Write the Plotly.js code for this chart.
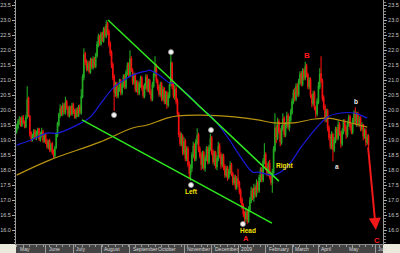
<!DOCTYPE html>
<html><head><meta charset="utf-8">
<script src="https://cdn.plot.ly/plotly-3.0.1.min.js"></script>
<style>html,body{margin:0;padding:0;background:#000}#chart{width:400px;height:253px}</style>
</head><body><div id="chart"></div>
<script>
// ---- Data (trading-day index on x, price on y) ----
const openP = [
19.30,19.42,19.60,19.72,19.50,19.76,19.62,19.45,19.78,20.40,
19.80,19.25,19.02,19.12,19.32,19.08,19.22,19.38,19.02,19.18,
19.28,18.98,19.18,18.98,18.78,18.98,18.68,18.88,18.62,18.48,
18.78,19.18,19.52,19.82,20.08,19.88,20.18,19.92,20.28,20.08,
19.82,20.08,19.88,20.18,19.98,19.78,20.02,19.82,20.12,19.92,
20.45,21.10,21.88,21.62,21.38,21.58,21.28,21.68,21.42,21.72,
21.48,21.82,22.18,22.48,22.22,22.58,22.32,22.72,22.48,22.88,
22.62,22.22,21.92,21.52,21.12,20.58,20.88,20.48,20.72,20.98,
20.58,20.82,21.12,20.78,21.22,21.52,21.18,21.72,21.32,20.92,
21.18,20.68,20.92,20.58,20.82,21.08,20.78,20.48,20.78,21.12,
20.68,20.98,20.62,20.38,20.82,21.18,21.48,20.98,20.78,20.52,
20.88,20.38,20.72,20.28,20.58,20.18,20.48,20.88,21.55,20.82,
20.48,20.72,20.32,19.88,19.22,18.88,19.12,18.58,18.98,18.38,
18.72,18.22,17.88,18.08,18.48,18.82,18.38,18.92,19.18,18.72,
18.52,18.18,18.58,18.08,18.38,18.72,18.28,18.72,19.08,18.62,
18.28,18.58,18.12,18.38,18.82,18.52,18.18,18.48,18.12,17.82,
18.08,17.78,17.92,18.18,17.88,17.58,17.78,17.42,17.72,17.58,
17.32,17.02,16.82,16.58,16.38,16.62,16.32,16.68,16.98,17.32,
17.08,17.42,17.18,17.58,17.32,17.72,18.02,17.68,18.28,18.52,
18.12,17.88,18.22,17.82,17.58,17.92,18.68,19.42,19.08,19.62,
19.32,18.92,19.38,19.72,19.18,19.48,19.82,19.42,19.68,19.92,
20.28,20.62,20.38,20.82,20.52,20.92,21.22,20.88,21.32,21.08,
21.48,21.18,20.78,21.02,20.48,20.22,20.58,20.08,19.88,20.28,
20.78,21.22,20.98,20.42,20.12,19.68,19.98,19.42,19.12,18.78,
19.18,18.68,18.98,19.38,19.08,19.52,19.22,18.88,19.28,19.62,
19.42,19.18,19.52,19.78,19.48,19.28,19.62,19.92,19.58,19.88,
19.52,19.72,19.38,19.52,19.12,19.32,18.92,19.12];
const highP = [
19.55,19.70,19.80,19.78,19.82,19.84,19.66,19.85,20.80,20.45,
19.85,19.30,19.22,19.38,19.36,19.32,19.42,19.42,19.28,19.42,
19.35,19.22,19.25,19.05,19.02,19.05,18.92,18.95,18.70,18.82,
19.28,19.62,19.92,20.20,20.15,20.25,20.25,20.45,20.35,20.15,
20.15,20.15,20.25,20.25,20.05,20.08,20.10,20.18,20.20,20.70,
21.20,22.07,21.95,21.70,21.65,21.65,21.75,21.75,21.80,21.78,
21.92,22.30,22.55,22.52,22.62,22.62,22.78,22.80,23.00,22.95,
22.70,22.30,22.00,21.60,21.20,20.95,20.95,20.85,21.05,21.05,
20.95,21.20,21.20,21.35,21.60,21.60,22.00,21.80,21.40,21.25,
21.25,21.00,21.00,20.95,21.15,21.15,20.85,20.90,21.20,21.20,
21.05,21.05,20.70,20.95,21.30,21.80,21.55,21.05,20.85,20.95,
20.95,20.80,20.78,20.65,20.65,20.60,20.95,21.85,21.62,20.90,
20.85,20.80,20.40,19.95,19.30,19.25,19.20,19.10,19.05,18.80,
18.80,18.30,18.20,18.60,18.95,18.90,19.05,19.40,19.25,18.80,
18.60,18.65,18.65,18.50,18.80,18.80,18.85,19.22,19.15,18.70,
18.65,18.65,18.50,18.95,18.90,18.60,18.55,18.55,18.20,18.15,
18.15,18.05,18.30,18.25,17.95,17.85,17.85,17.80,18.05,17.65,
17.40,17.10,16.90,16.65,16.75,16.70,16.80,17.10,17.45,17.40,
17.55,17.50,17.70,17.65,17.85,18.10,18.10,18.40,18.90,18.60,
18.25,18.30,18.35,17.90,18.05,18.80,19.90,19.50,19.75,19.70,
19.40,19.50,19.90,19.80,19.60,19.95,19.90,19.80,20.05,20.40,
20.70,20.75,20.90,20.90,21.05,21.30,21.30,21.40,21.40,21.62,
21.55,21.25,21.10,21.10,20.55,20.65,20.65,20.15,20.40,20.95,
21.40,21.80,21.05,20.50,20.20,20.05,20.05,19.50,19.20,19.30,
19.25,19.10,19.45,19.45,19.65,19.60,19.30,19.40,19.70,19.70,
19.50,19.65,19.85,19.85,19.55,19.75,20.00,20.10,19.95,19.95,
19.80,19.80,19.60,19.55,19.40,19.40,19.20,19.20];
const lowP = [
19.22,19.36,19.52,19.45,19.44,19.55,19.40,19.40,19.72,19.78,
19.12,18.95,18.96,19.05,19.02,19.00,19.15,18.98,18.95,19.10,
18.92,18.92,18.88,18.72,18.70,18.62,18.60,18.52,18.40,18.42,
18.70,19.10,19.45,19.75,19.82,19.80,19.88,19.85,20.02,19.78,
19.75,19.82,19.82,19.88,19.72,19.72,19.78,19.78,19.88,19.85,
20.40,21.00,21.50,21.30,21.30,21.22,21.22,21.38,21.35,21.42,
21.40,21.75,22.10,22.15,22.15,22.28,22.25,22.42,22.40,22.50,
22.10,21.80,21.40,21.00,19.98,20.45,20.40,20.40,20.62,20.50,
20.50,20.75,20.70,20.70,21.15,21.10,21.10,21.28,20.85,20.85,
20.60,20.60,20.50,20.50,20.75,20.65,20.40,20.40,20.70,20.60,
20.60,20.52,20.30,20.30,20.75,21.10,20.90,20.65,20.45,20.45,
20.30,20.30,20.20,20.20,20.05,20.10,20.40,20.80,20.70,20.40,
20.35,20.20,19.80,19.10,18.80,18.80,18.50,18.50,18.30,18.30,
18.10,17.70,17.65,17.95,18.40,18.30,18.30,18.85,18.60,18.40,
18.00,18.05,18.00,17.95,18.30,18.20,18.20,18.65,18.50,18.20,
18.15,18.05,18.00,18.30,18.40,18.05,18.10,18.00,17.75,17.75,
17.65,17.70,17.85,17.80,17.50,17.50,17.35,17.35,17.45,17.20,
16.90,16.70,16.45,16.25,16.28,16.22,16.25,16.60,16.90,17.00,
16.95,17.10,17.10,17.25,17.25,17.60,17.60,17.60,18.20,18.00,
17.80,17.80,17.70,17.50,17.25,17.85,18.60,18.90,19.00,19.20,
18.80,18.85,19.30,19.10,19.10,19.40,19.35,19.30,19.60,19.85,
20.20,20.30,20.30,20.45,20.45,20.85,20.80,20.80,21.00,21.00,
21.10,20.70,20.70,20.40,20.10,20.15,20.00,19.75,19.80,20.20,
20.70,20.90,20.30,20.00,19.60,19.60,19.30,19.00,18.70,18.70,
18.30,18.60,18.90,19.00,19.00,19.15,18.75,18.80,19.20,19.30,
19.05,19.10,19.45,19.35,19.20,19.20,19.55,19.50,19.45,19.45,
19.45,19.30,19.30,19.00,19.05,18.80,18.85,18.70];
const closeP = [
19.45,19.62,19.70,19.52,19.74,19.60,19.48,19.75,20.35,19.85,
19.20,19.05,19.15,19.30,19.10,19.25,19.35,19.05,19.20,19.30,
19.00,19.15,18.95,18.80,18.95,18.70,18.85,18.60,18.50,18.75,
19.20,19.55,19.85,20.05,19.90,20.15,19.95,20.25,20.10,19.85,
20.05,19.90,20.15,19.95,19.80,20.00,19.85,20.10,19.95,20.45,
21.10,21.85,21.60,21.40,21.55,21.30,21.65,21.45,21.70,21.50,
21.85,22.20,22.45,22.25,22.55,22.35,22.70,22.50,22.85,22.60,
22.20,21.90,21.50,21.10,20.60,20.85,20.50,20.75,20.95,20.60,
20.85,21.10,20.80,21.25,21.50,21.20,21.70,21.35,20.95,21.15,
20.70,20.90,20.60,20.85,21.05,20.75,20.50,20.80,21.10,20.70,
20.95,20.60,20.40,20.85,21.20,21.45,21.00,20.75,20.55,20.85,
20.40,20.70,20.30,20.55,20.20,20.50,20.85,21.60,20.80,20.50,
20.70,20.30,19.90,19.20,18.90,19.10,18.60,18.95,18.40,18.70,
18.20,17.90,18.05,18.50,18.80,18.40,18.95,19.15,18.70,18.50,
18.20,18.55,18.10,18.40,18.70,18.30,18.75,19.05,18.60,18.30,
18.55,18.15,18.40,18.80,18.50,18.20,18.45,18.10,17.85,18.05,
17.80,17.95,18.15,17.90,17.60,17.75,17.45,17.70,17.55,17.30,
17.00,16.80,16.55,16.40,16.60,16.35,16.70,17.00,17.30,17.10,
17.40,17.20,17.55,17.35,17.75,18.00,17.70,18.30,18.50,18.10,
17.90,18.20,17.80,17.60,17.95,18.70,19.40,19.10,19.60,19.30,
18.95,19.40,19.70,19.20,19.50,19.80,19.45,19.70,19.95,20.30,
20.60,20.40,20.80,20.55,20.95,21.20,20.90,21.30,21.10,21.45,
21.20,20.80,21.00,20.50,20.25,20.55,20.10,19.90,20.30,20.80,
21.20,21.00,20.40,20.10,19.70,19.95,19.40,19.10,18.80,19.20,
18.70,19.00,19.35,19.10,19.50,19.25,18.90,19.30,19.60,19.40,
19.20,19.55,19.75,19.45,19.30,19.65,19.90,19.60,19.85,19.55,
19.70,19.40,19.50,19.15,19.30,18.95,19.10,18.85];

// moving averages
const ma50X = [0,11,23,31,49,56,64,74,84,92,99,101,110,116,119,132,139,148,160,170,179,183,195,205,216,226,236,246,256,261,266];
const ma50Y = [18.84,19.01,19.24,19.24,19.58,19.78,20.24,20.78,21.08,21.24,21.31,21.34,21.11,20.91,20.91,20.44,20.11,19.78,19.11,18.44,17.94,17.94,17.84,18.11,18.78,19.34,19.78,19.91,19.91,19.84,19.74];
const ma200X = [0,25,63,88,99,114,122,140,165,183,195,210,226,236,251,266];
const ma200Y = [17.84,18.34,18.94,19.41,19.51,19.74,19.81,19.84,19.78,19.68,19.58,19.58,19.71,19.74,19.61,19.44];

// hand-drawn trend lines
const upperLineX = [69.3, 199.0];
const upperLineY = [23.01, 17.64];
const lowerLineX = [49.6, 193.7];
const lowerLineY = [19.68, 16.24];

// pivot markers
const pivotX = [73.9, 117.1, 132.3, 147.5, 171.7];
const pivotY = [19.84, 21.94, 17.51, 19.34, 16.21];

// text labels
const labelText = ['Left','Head','Right','A','B','C','a','b'];
const labelX = [132.3, 175.5, 203.6, 174.0, 220.3, 273.4, 243.1, 257.5];
const labelY = [17.28, 15.98, 18.14, 15.74, 21.84, 15.67, 18.14, 20.31];
const labelColor = ['#f5e400','#f5e400','#f5e400','#ff1a1a','#ff1a1a','#ff1a1a','#e0e0e0','#f4f4f4'];
const labelSize = [6.5,6.5,6.5,7.5,8,7.5,6.5,6.5];

// projection arrow
const arrowX = [266.6, 272.6];
const arrowY = [18.81, 16.01];

// x axis months
const monthIdx = [0,22,43,64,86,105,127,148,168,189,209,229,250,272];
const monthLabels = ['May','June','July','August','September','October','November','December','2009','February','March','April','May','Jun'];

// ---- Chart ----
const idx = closeP.map((_, i) => i);
const yRange = [15.543, 23.677];
const PLOT_W = 367, PLOT_H = 244;

const traces = [
  {type:'candlestick', x: idx, open: openP, high: highP, low: lowP, close: closeP,
   increasing:{line:{color:'#22a822', width:1.1}, fillcolor:'#22a822'},
   decreasing:{line:{color:'#f01010', width:1.1}, fillcolor:'#f01010'},
   whiskerwidth:0, hoverinfo:'skip', showlegend:false},
  {type:'scatter', mode:'lines', x: ma200X, y: ma200Y, line:{color:'#b89410', width:1.2, shape:'spline'}, hoverinfo:'skip', showlegend:false},
  {type:'scatter', mode:'lines', x: ma50X, y: ma50Y, line:{color:'#1a1ad8', width:1.2, shape:'spline'}, hoverinfo:'skip', showlegend:false},
  {type:'scatter', mode:'lines', x: upperLineX, y: upperLineY, line:{color:'#2ee81e', width:1.5}, hoverinfo:'skip', showlegend:false},
  {type:'scatter', mode:'lines', x: lowerLineX, y: lowerLineY, line:{color:'#2ee81e', width:1.5}, hoverinfo:'skip', showlegend:false},
  {type:'scatter', mode:'markers', x: pivotX, y: pivotY, marker:{color:'#f4f4f4', size:5, line:{color:'#9a9a9a', width:0.8}}, hoverinfo:'skip', showlegend:false},
  {type:'scatter', mode:'markers', x:[0], y:[20], yaxis:'y2', marker:{opacity:0}, hoverinfo:'skip', showlegend:false}
];

const annotations = labelText.map((t, i) => ({
  x: labelX[i], y: labelY[i], xref:'x', yref:'y', text: '<b>' + t + '</b>', showarrow:false,
  font:{family:'Liberation Sans, Arial, sans-serif', size: labelSize[i], color: labelColor[i]}
}));
annotations.push({
  x: arrowX[1], y: arrowY[1], ax: arrowX[0], ay: arrowY[0], xref:'x', yref:'y', axref:'x', ayref:'y',
  text:'', showarrow:true, arrowhead:2, arrowsize:1.2, arrowwidth:2, arrowcolor:'#f01818'
});
monthLabels.forEach((m, i) => {
  annotations.push({x: monthIdx[i], y: -4.6/PLOT_H, xref:'x', yref:'paper', text: m, showarrow:false,
    xanchor:'left', yanchor:'middle', xshift:1,
    font:{family:'Liberation Sans Narrow, Liberation Sans, Arial, sans-serif', size:5, color:'#d8d8d8'}});
});

const tickFont = {family:'Liberation Sans, Arial, sans-serif', size:5.5, color:'#c4c4c4'};
const yCommon = {range: yRange, tick0:0, dtick:0.5, tickformat:'.1f', ticks:'outside', ticklen:3, tickcolor:'#aaaaaa',
  tickfont: tickFont, showgrid:false, zeroline:false, showline:true, linecolor:'#9a9a9a', linewidth:1,
  minor:{dtick:0.1, tick0:0, ticklen:1.5, ticks:'outside', tickcolor:'#8a8a8a', showgrid:false}, fixedrange:true};

const layout = {
  width:400, height:253,
  margin:{l:16, r:17, t:0, b:9, pad:0},
  paper_bgcolor:'#000000', plot_bgcolor:'#000000',
  showlegend:false,
  xaxis:{range:[-0.5, 278], tickmode:'array', tickvals: monthIdx, ticktext: monthIdx.map(() => ''),
    ticks:'outside', ticklen:9, tickcolor:'#9c9c9c', showticklabels:false, showgrid:false, zeroline:false,
    showline:true, linecolor:'#8a8a8a', rangeslider:{visible:false}, fixedrange:true,
    minor:{tickmode:'linear', tick0:0, dtick:5, ticklen:2, ticks:'outside', tickcolor:'#9c9c9c'}},
  yaxis: Object.assign({side:'left'}, yCommon),
  yaxis2: Object.assign({side:'right', overlaying:'y'}, yCommon),
  shapes:[
    {type:'rect', xref:'paper', yref:'paper', x0:0, x1:1, y0:-9/PLOT_H, y1:0, fillcolor:'#444444', line:{width:0}, layer:'below'},
    {type:'rect', xref:'paper', yref:'paper', x0:-16/PLOT_W, x1:0, y0:-9/PLOT_H, y1:0, fillcolor:'#ebe8dc', line:{width:0}, layer:'below'},
    {type:'rect', xref:'paper', yref:'paper', x0:1, x1:1+17/PLOT_W, y0:-9/PLOT_H, y1:0, fillcolor:'#ebe8dc', line:{width:0}, layer:'below'}
  ],
  annotations: annotations
};

Plotly.newPlot('chart', traces, layout, {staticPlot:true, displayModeBar:false});
</script></body></html>
